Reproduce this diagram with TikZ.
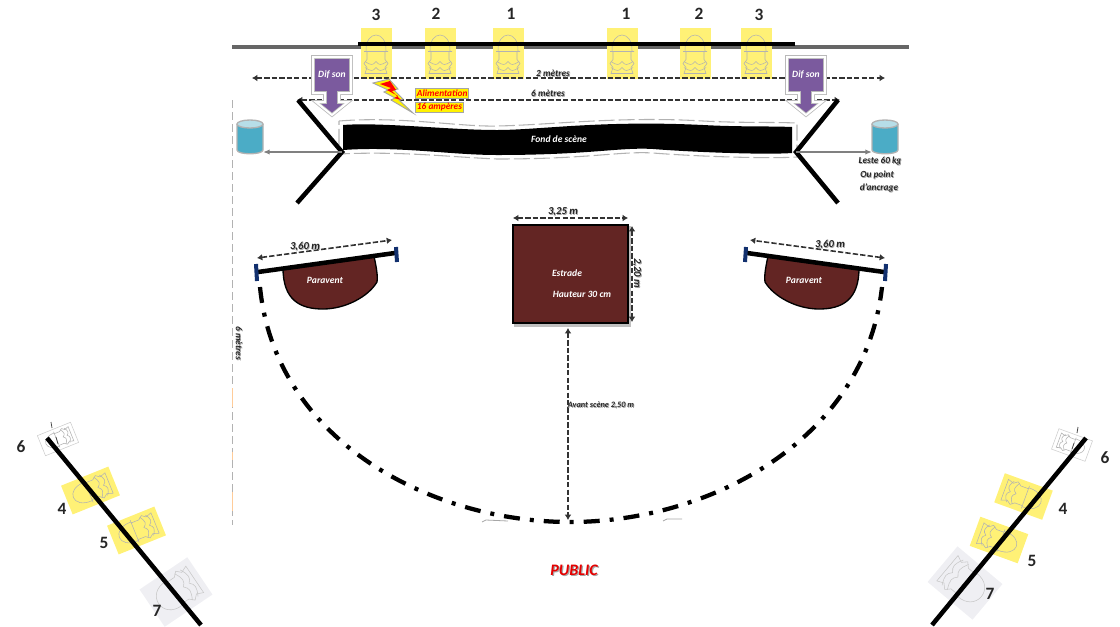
\documentclass[tikz,border=0pt]{standalone}
\usepackage{fontspec}
\setmainfont{Carlito}
\usetikzlibrary{arrows.meta,calc}
\definecolor{jaune}{HTML}{FFF176}
\definecolor{violet}{HTML}{7B5A9E}
\definecolor{brun}{HTML}{632523}
\definecolor{bleu}{HTML}{4BACC6}
\definecolor{marine}{HTML}{12306E}
\definecolor{voile}{HTML}{EFEFF3}
\tikzset{
	barre/.style={line width=3.4pt,black},
	cote/.style={line width=1.7pt,black!80,dash pattern=on 4pt off 1.6pt,{Latex[length=4pt,width=5pt]}-{Latex[length=4pt,width=5pt]}},
	trait/.style={inner sep=0,font=\fontsize{7}{8}\selectfont\bfseries\itshape,text=black!85},
	grand/.style={font=\fontsize{8}{9}\selectfont\bfseries\itshape},
	fin/.style={font=\fontsize{6.2}{8}\selectfont\bfseries\itshape},
	blanc/.style={inner sep=0,font=\fontsize{7.2}{8}\selectfont\bfseries\itshape,text=white},
	chiffre/.style={inner sep=0,font=\fontsize{13}{14}\selectfont\bfseries,text=black!85},
	alim/.style={fill=yellow,draw=gray!70,line width=.9pt,inner sep=1pt,font=\fontsize{7}{8}\selectfont\bfseries\itshape,text=red},
	spot/.pic={
		\path[pic actions] (-15.5,-25.5) rectangle (15.5,25.5);
		\draw[#1,line width=.4pt] (-10,-2) .. controls (-11,-24) and (11,-24) .. (10,-2);
		\draw[#1,line width=.4pt] (-12,-2)--(12,-2) (-9,-2)--(-9,6)--(-12,10)--(-9,14)--(-11,20)--(11,20)--(9,14)--(12,10)--(9,6)--(9,-2);
		\draw[#1,line width=.4pt] (-11,8) .. controls (-5,12) and (-3,12) .. (0,8) .. controls (3,12) and (5,12) .. (11,8);
		\draw[#1,line width=.4pt] (-11,14) .. controls (-5,18) and (-3,18) .. (0,14) .. controls (3,18) and (5,18) .. (11,14);
	},
	difson/.pic={
		\draw[fill=violet,draw=gray!55,double=white,double distance=1.5pt,line width=.6pt,line join=miter] (-19,-56)--(19,-56)--(19,-20)--(7,-20)--(7,-11)--(16,-11)--(0,2)--(-16,-11)--(-7,-11)--(-7,-20)--(-19,-20)--cycle;
		\node[blanc] at (0,-38) {Dif son};
	},
	tonneau/.pic={
		\draw[fill=bleu,draw=gray!60,line width=1pt] (-13,-13)--(-13,13) .. controls (-13,18) and (13,18) .. (13,13)--(13,-13);
		\draw[fill=bleu!40!white,draw=gray!60,line width=1pt] (0,-13) ellipse[x radius=13,y radius=4];
	},
	paravent/.pic={
		\draw[fill=brun,draw=black,line width=1pt] (283,268) .. controls (283,300) and (300,309) .. (323,309) .. controls (345,309) and (368,297) .. (377,282) .. controls (378,275) and (376,266) .. (374,256)--cycle;
		\draw[line width=3.4pt] (258,272)--(395,253);
		\draw[line width=3pt,marine] (256,264)--(257,281) (396,247)--(397,262);
		\draw[cote,line width=1.2pt] (257,258)--(392,240);
	},
}
\newcommand{\ombre}[4][]{%
	\node[trait,text=gray!70,#1] at ($(#3)+(.8,1)$) {#4};
	\node[trait,#1] (#2) at (#3) {#4};}
\begin{document}
\begin{tikzpicture}[x=.75pt,y=-.75pt]
	\useasboundingbox (0,0) rectangle (1120,626);
	\draw[gray!60,dash pattern=on 6pt off 3pt,line width=.6pt] (232,100)--(232,525);
	\draw[orange!40,line width=.7pt] (232,388)--(232,407) (232,452)--(232,460) (232,492)--(232,511);
	\draw[black!60,line width=2.4pt] (232,47)--(909,47);
	% projecteurs du haut
	\foreach \x in {376,440,508,622,695,756} \pic[fill=jaune] at (\x,53.5) {spot={gray!60}};
	\foreach \x/\y/\n/\m in {376/15/3/a,436/14/2/b,511/14/1/c,626/14/1/d,699/14/2/e,759/15/3/f}
		\node[chiffre] (n\m) at (\x,\y) {\n};
	\draw[line width=3pt] (358,44)--(795,44);
	% cotes
	\draw[cote] (252,78)--(885,78);
	\draw[cote] (297,100)--(840,100);
	\ombre{deux}{553,73}{2 mètres}
	\ombre{six}{548,93}{6 mètres}
	% fond de scene
	\draw[gray!60,dash pattern=on 12pt off 3pt,line width=.8pt] (339,121) .. controls (400,116) and (460,127) .. (497,126) .. controls (550,125) and (620,116) .. (703,121) .. controls (740,123) and (770,122) .. (797,123)--(797,157) .. controls (765,159) and (690,156) .. (653,153) .. controls (620,151) and (590,159) .. (497,159) .. controls (450,157) and (400,151) .. (339,154)--cycle;
	\fill (343,125) .. controls (380,122) and (450,130) .. (497,130) .. controls (540,130) and (600,120) .. (703,125) .. controls (740,127) and (770,126) .. (792,127)--(792,153) .. controls (765,155) and (690,152) .. (653,149) .. controls (620,147) and (590,155) .. (497,155) .. controls (450,155) and (400,146) .. (343,150)--cycle;
	\node[blanc] (fond) at (559,139) {Fond de scène};
	% structure
	\coordinate (g) at (342,152);
	\coordinate (d) at (796,152);
	\draw[barre] (298,100)--(g)--(297,203);
	\draw[barre] (838,100)--(d)--(838,203);
	\draw[gray,line width=1.2pt,{Latex[length=5pt,width=4pt]}-] (263,152)--(g);
	\draw[gray,line width=1.2pt,-{Latex[length=5pt,width=4pt]}] (d)--(872,152);
	\pic at (250,137) {tonneau};
	\pic at (885,137) {tonneau};
	\pic at (332,113) {difson};
	\pic at (806,113) {difson};
	% alimentation
	\draw[fill=yellow,draw=gray!70,line width=.7pt] (373,83)--(389,79)--(398,89)--(394,90)--(403,99)--(399,100)--(413,113)--(391,100)--(395,98)--(384,92)--(388,90)--cycle;
	\fill[red] (380,84)--(390,81)--(396,90)--(392,91)--(401,100)--(394,98)--(398,96)--(387,90)--(391,88)--cycle;
	\node[alim,anchor=west] (aa) at (415,93.5) {Alimentation};
	\node[alim,anchor=west] (ab) at (415,107.5) {16 ampères};
	% paravents
	\pic {paravent};
	\pic at (1142,0) [xscale=-1] {paravent};
	\ombre[grand]{pg}{305,247}{3,60 m}
	\ombre[grand]{pd}{830,245}{3,60 m}
	\node[blanc] (pa) at (325,280) {Paravent};
	\node[blanc] (pb) at (804,280) {Paravent};
	% estrade
	\fill[gray!50] (514,226) rectangle (631,327);
	\draw[fill=brun,line width=1.5pt] (513,225) rectangle (628,323);
	\node[blanc] (est) at (567,273) {Estrade};
	\node[blanc] (hau) at (582,294) {Hauteur 30 cm};
	\draw[cote,line width=1.2pt] (513,218)--(628,218);
	\draw[cote,line width=1.2pt] (632,226)--(632,322);
	\ombre[grand]{la}{563,212}{3,25 m}
	\ombre[grand,rotate=-90]{lb}{637,273}{2,20 m}
	% avant scene
	\draw[line width=3.2pt,dash pattern=on 12pt off 7.5pt on 3pt off 7.5pt] (260,287) .. controls (275,440) and (430,522) .. (570,522) .. controls (710,522) and (865,440) .. (882,287);
	\draw[cote] (568,328)--(568,520);
	\ombre[fin]{av}{601,405}{Avant scène 2,50 m}
	\ombre[rotate=-90]{lc}{239,343}{6 mètres}
	\draw[gray!70,line width=.6pt] (482,522)--(486,520)--(508,521) (663,521)--(667,519)--(682,519);
	% leste
	\ombre{le}{880,161}{Leste 60 kg}
	\ombre{op}{877,175}{Ou point}
	\ombre{an}{879,188}{d'ancrage}
	% public
	\node[inner sep=0,font=\fontsize{12}{13}\selectfont\bfseries\itshape,text=gray!70] at (575.2,571.2) {PUBLIC};
	\node[inner sep=0,font=\fontsize{12}{13}\selectfont\bfseries\itshape,text=red!90!black] (pub) at (574,570) {PUBLIC};
	% cotes gauche et droit
	\pic[fill=jaune] at (90.5,490.5) [rotate=112] {spot={gray!60}};
	\pic[fill=jaune] at (136.5,530.5) [rotate=112] {spot={gray!60}};
	\pic[fill=voile] at (176,592) [rotate=124,xscale=1.45,yscale=1.13] {spot={black!22}};
	\pic[fill=white,draw=black!20] at (58,439) [rotate=112,scale=.7] {spot={black!30}};
	\draw[black!70,line width=.6pt] (51,422)--(52,428) (56,437)--(58,444);
	\draw[barre] (47,438)--(201,625);
	\pic[fill=jaune] at (1023.5,496.5) [rotate=-110] {spot={gray!60}};
	\pic[fill=jaune] at (999,540) [rotate=-110] {spot={gray!60}};
	\pic[fill=voile] at (965,583) [rotate=-130,xscale=1.5,yscale=1.15] {spot={black!22}};
	\pic[fill=white,draw=black!20] at (1072,445) [rotate=-110,scale=.7] {spot={black!30}};
	\draw[black!70,line width=.6pt] (1078,427)--(1077,433) (1074,443)--(1072,449);
	\draw[barre] (1086,438)--(932,625);
	\foreach \x/\y/\n/\m in {21/447/6/g,62/509/4/h,104/543/5/i,157/611/7/j,1105/458/6/k,1063/509/4/l,1032/561/5/m,990/594/7/o}
		\node[chiffre] (n\m) at (\x,\y) {\n};
\end{tikzpicture}
\end{document}
